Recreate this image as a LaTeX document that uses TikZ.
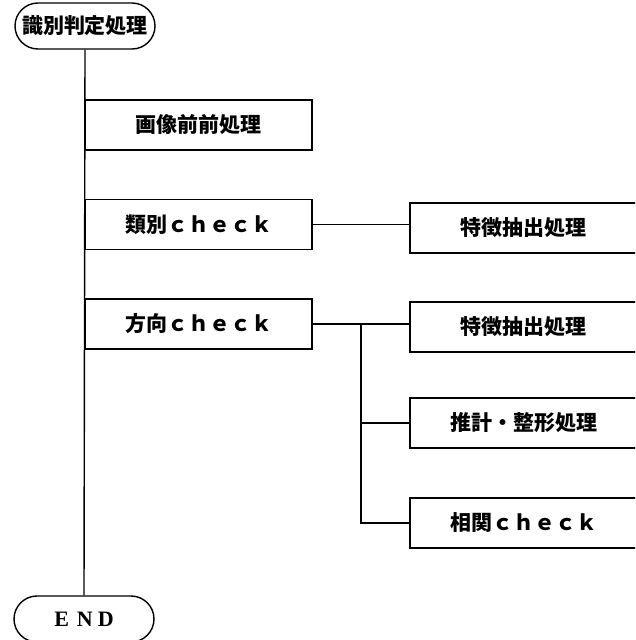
\documentclass[tikz,border=0pt]{standalone}
\usepackage{fontspec}
\usetikzlibrary{calc}
\newfontfamily\cjk{Noto Sans CJK JP}
\newfontfamily\endfont{Liberation Serif}
\begin{document}
\begin{tikzpicture}[x=1pt,y=-1pt,line width=1.4pt,
  box/.style={draw,rectangle,inner sep=0pt,minimum height=50pt,
    font=\cjk\bfseries\fontsize{21}{21}\selectfont},
  leftbox/.style={box,minimum width=227pt},
  rightbox/.style={box,minimum width=227pt},
  term/.style={draw,rectangle,rounded corners=23pt,inner sep=0pt,
    minimum width=140pt,minimum height=46pt}]
\useasboundingbox (0,0) rectangle (635,640);
\clip (0,0) rectangle (635,640);
\node[term,font=\cjk\bfseries\fontsize{21}{21}\selectfont] (start) at (85,26) {識別判定処理};
\node[term,font=\endfont\bfseries\fontsize{22}{22}\selectfont] (end) at (84,619) {E\hspace{8pt}N\hspace{5pt}D};
\node[leftbox] (b1) at (198.5,125) {画像前前処理};
\node[leftbox] (b2) at (198.5,224.5) {類別ｃｈｅｃｋ};
\node[leftbox] (b3) at (198.5,324) {方向ｃｈｅｃｋ};
\node[rightbox] (rA) at (523.5,228) {特徴抽出処理};
\node[rightbox] (rB) at (523.5,327) {特徴抽出処理};
\node[rightbox] (rC) at (523.5,423) {推計・整形処理};
\node[rightbox] (rD) at (523.5,523) {相関ｃｈｅｃｋ};
\draw (start.south) -- (end.north);
\draw (b2.east) -- (b2.east -| rA.west);
\draw (b3.east) -- (b3.east -| rB.west);
\coordinate (br) at ($(b3.east)!0.5!(b3.east -| rB.west)$);
\draw (br) |- (rD.west);
\draw (br |- rC.west) -- (rC.west);
\end{tikzpicture}
\end{document}
